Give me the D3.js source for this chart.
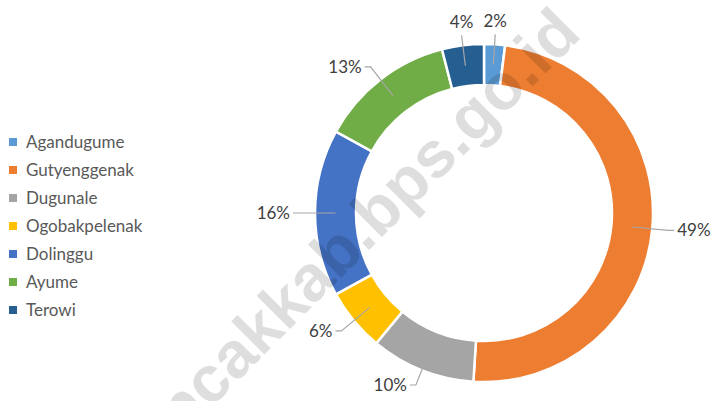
<!DOCTYPE html>
<html>
<head>
<meta charset="utf-8">
<script src="https://cdn.jsdelivr.net/npm/d3@7"></script>
<style>
  body { margin: 0; background: #fff; }
  svg { display: block; }
</style>
</head>
<body>
<div id="chart"></div>
<script>
// data
var names = ["Agandugume", "Gutyenggenak", "Dugunale", "Ogobakpelenak", "Dolinggu", "Ayume", "Terowi"]
var shares = [2, 49, 10, 6, 16, 13, 4]
var colors = ["#5B9BD5", "#ED7D31", "#A5A5A5", "#FFC000", "#4472C4", "#70AD47", "#255E91"]

var width = 722, height = 401
var cx = 484, cy = 213
var outerR = 169, innerR = 128

var svg = d3.select("#chart")
  .append("svg")
    .attr("width", width)
    .attr("height", height)

var color = d3.scaleOrdinal().domain(names).range(colors)

var pie = d3.pie().sort(null).value(function(d, i) { return shares[i] })
var arcs = pie(names)

var arc = d3.arc().innerRadius(innerR).outerRadius(outerR)

var g = svg.append("g").attr("transform", "translate(" + cx + "," + cy + ")")

g.selectAll("path.slice")
  .data(arcs)
  .enter()
  .append("path")
    .attr("class", "slice")
    .attr("d", arc)
    .style("fill", function(d) { return color(d.data) })
    .style("stroke", "#fff")
    .style("stroke-width", 2.5)

// leader lines + labels
function polar(r, a) { return [r * Math.sin(a), -r * Math.cos(a)] }

arcs.forEach(function(d, i) {
  var a = (d.startAngle + d.endAngle) / 2
  var s = Math.sin(a)
  var top = Math.abs(s) < 0.3 && Math.cos(a) > 0
  var p0 = polar((innerR + outerR) / 2, a)
  var p1 = polar(outerR + (top ? 10 : 16), a)
  var pts = [p0, p1]
  var tx, ty, anchor
  if (top) {
    tx = p1[0]; ty = p1[1] - 7; anchor = "middle"
  } else {
    var dir = s > 0 ? 1 : -1
    var p2 = [p1[0] + dir * 6, p1[1]]
    pts.push(p2)
    tx = p2[0] + dir * 3; ty = p2[1] + 6; anchor = dir > 0 ? "start" : "end"
  }
  g.append("path")
    .attr("d", d3.line()(pts))
    .style("fill", "none")
    .style("stroke", "#A6A6A6")
    .style("stroke-width", 1.2)
  g.append("text")
    .attr("x", tx)
    .attr("y", ty)
    .attr("text-anchor", anchor)
    .style("font-family", "Lato, 'Open Sans', sans-serif")
    .style("font-size", "17px")
    .style("fill", "#404040")
    .text(shares[i] + "%")
})

// legend
var legend = svg.append("g").attr("transform", "translate(9,142)")
legend.selectAll("rect")
  .data(names)
  .enter()
  .append("rect")
    .attr("x", 0)
    .attr("y", function(d, i) { return i * 28 - 4 })
    .attr("width", 8)
    .attr("height", 8)
    .style("fill", function(d) { return color(d) })
legend.selectAll("text")
  .data(names)
  .enter()
  .append("text")
    .attr("x", 17)
    .attr("y", function(d, i) { return i * 28 + 6 })
    .style("font-family", "Lato, 'Open Sans', sans-serif")
    .style("font-size", "17px")
    .style("fill", "#595959")
    .text(function(d) { return d })

// watermark
svg.append("text")
  .attr("transform", "translate(583,36) rotate(-45)")
  .attr("text-anchor", "end")
  .style("font-family", "'Liberation Sans', Arial, sans-serif")
  .style("font-weight", "bold")
  .style("font-size", "65px")
  .style("fill", "#000")
  .style("fill-opacity", 0.13)
  .text("puncakkab.bps.go.id")
</script>
</body>
</html>
